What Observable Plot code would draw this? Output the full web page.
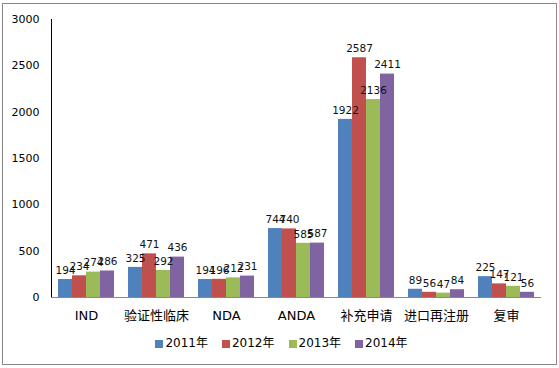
<!DOCTYPE html>
<html>
<head>
<meta charset="utf-8">
<script src="https://cdn.jsdelivr.net/npm/d3@7"></script>
<script src="https://cdn.jsdelivr.net/npm/@observablehq/plot@0.6"></script>
<style>
  body { margin: 0; background: #fff; font-family: "DejaVu Sans", "Noto Sans CJK SC", sans-serif; }
  #frame { position: absolute; left: 2px; top: 3px; width: 553px; height: 360px; border: 1px solid #888; background: #fff; }
  #legend { display: flex; justify-content: center; gap: 14px; font-size: 12px; line-height: 16px; margin-top: 1px; color: #000; padding-left: 4px; }
  #legend .item { display: flex; align-items: center; }
  #legend .sw { width: 8px; height: 8px; margin-right: 2px; margin-top: 2px; }
  svg [aria-label^="fx-axis"] text { font-size: 13px; }
</style>
</head>
<body>
<div id="frame">
  <div id="chart"></div>
  <div id="legend"></div>
</div>
<script>
const categories = ["IND", "验证性临床", "NDA", "ANDA", "补充申请", "进口再注册", "复审"];
const years = ["2011年", "2012年", "2013年", "2014年"];
const v2011 = [194, 325, 194, 744, 1922, 89, 225];
const v2012 = [234, 471, 196, 740, 2587, 56, 147];
const v2013 = [274, 292, 212, 585, 2136, 47, 121];
const v2014 = [286, 436, 231, 587, 2411, 84, 56];
const yTicks = [0, 500, 1000, 1500, 2000, 2500, 3000];
const colors = ["#4F81BD", "#C0504D", "#9BBB59", "#8064A2"];

const series = [v2011, v2012, v2013, v2014];
const data = categories.flatMap((c, i) => years.map((y, j) => ({category: c, year: y, value: series[j][i]})));

const chart = Plot.plot({
  width: 553,
  height: 330,
  marginTop: 15,
  marginBottom: 37,
  marginLeft: 47,
  marginRight: 14,
  style: {fontFamily: "'DejaVu Sans', 'Noto Sans CJK SC', sans-serif", fontSize: "11px", color: "#000", background: "#fff"},
  fx: {domain: categories, paddingInner: 0, paddingOuter: 0, label: null, tickSize: 0, tickPadding: 13, axis: "bottom"},
  x: {domain: years, paddingInner: 0, paddingOuter: 0.36, axis: null},
  y: {domain: [0, 3000], ticks: yTicks, tickSize: 0, tickPadding: 12, label: null, line: true, tickFormat: d => String(d)},
  color: {domain: years, range: colors},
  marks: [
    Plot.barY(data, {fx: "category", x: "year", y: "value", fill: "year"}),
    Plot.ruleY([0], {stroke: "#888"}),
    Plot.text(data, {fx: "category", x: "year", y: "value", text: d => String(d.value), dy: -9, fill: "#111", fontSize: 10.5})
  ]
});
document.getElementById("chart").appendChild(chart);

const legend = document.getElementById("legend");
years.forEach((y, i) => {
  const item = document.createElement("div");
  item.className = "item";
  const sw = document.createElement("span");
  sw.className = "sw";
  sw.style.background = colors[i];
  const t = document.createElement("span");
  t.textContent = y;
  item.appendChild(sw);
  item.appendChild(t);
  legend.appendChild(item);
});
</script>
</body>
</html>
